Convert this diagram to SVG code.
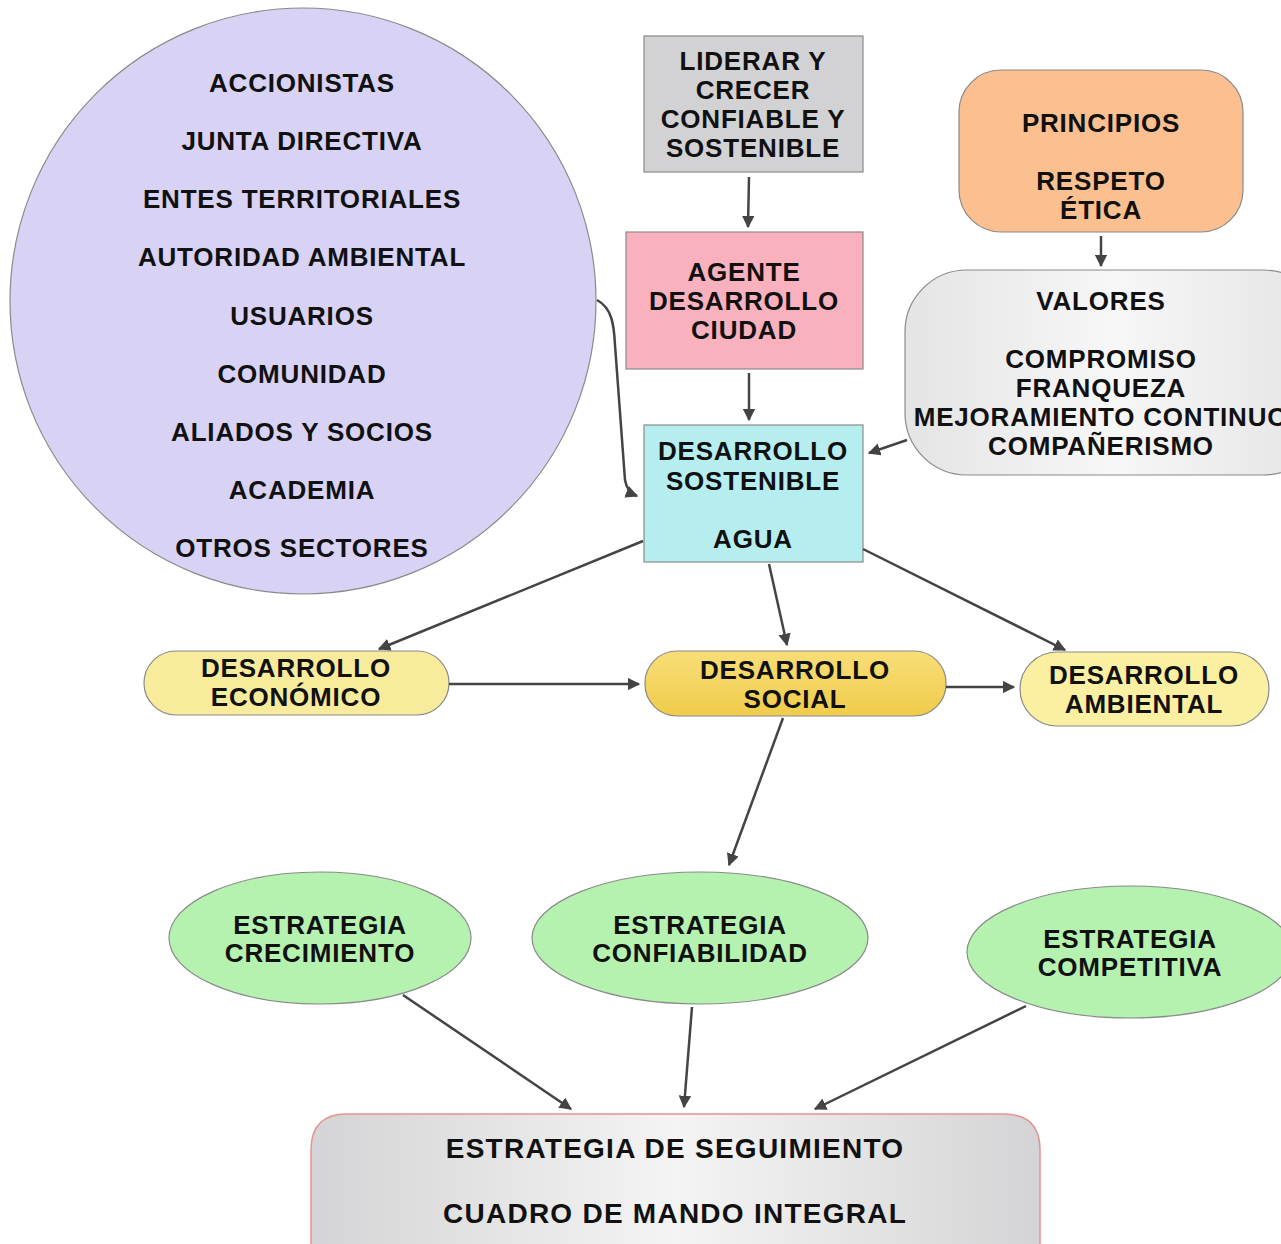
<svg xmlns="http://www.w3.org/2000/svg" width="1281" height="1244" viewBox="0 0 1281 1244">
<style>
text{font-family:"Liberation Sans",Arial,sans-serif;font-weight:bold;font-size:26px;letter-spacing:0.8px;text-anchor:middle;dominant-baseline:central;fill:#111}
text.big{font-size:28px;letter-spacing:1.25px}
.c{stroke:#444;stroke-width:2.5;fill:none;marker-end:url(#ah)}
.n{stroke:#8a8a8a;stroke-width:1.2}
</style>
<defs>
<marker id="ah" viewBox="0 0 10 10" refX="9" refY="5" markerWidth="5" markerHeight="5" orient="auto" markerUnits="strokeWidth">
<path d="M0,0 L10,5 L0,10 z" fill="#444"/>
</marker>
<linearGradient id="gv" x1="0" y1="0" x2="1" y2="0">
<stop offset="0" stop-color="#e4e4e4"/><stop offset="0.5" stop-color="#f7f7f7"/><stop offset="1" stop-color="#e4e4e4"/>
</linearGradient>
<linearGradient id="gb" x1="0" y1="0" x2="1" y2="0">
<stop offset="0" stop-color="#d4d4d6"/><stop offset="0.5" stop-color="#f4f4f4"/><stop offset="1" stop-color="#d4d4d6"/>
</linearGradient>
<linearGradient id="gs" x1="0" y1="0" x2="0" y2="1">
<stop offset="0" stop-color="#f8de78"/><stop offset="1" stop-color="#f0cc4a"/>
</linearGradient>
</defs>
<rect width="1281" height="1244" fill="#fff"/>

<g id="grupos">
<circle class="n" cx="303" cy="301" r="293" fill="#d8d2f4"/>
<text x="302" y="83">ACCIONISTAS</text>
<text x="302" y="141">JUNTA DIRECTIVA</text>
<text x="302" y="199">ENTES TERRITORIALES</text>
<text x="302" y="257">AUTORIDAD AMBIENTAL</text>
<text x="302" y="316">USUARIOS</text>
<text x="302" y="374">COMUNIDAD</text>
<text x="302" y="432">ALIADOS Y SOCIOS</text>
<text x="302" y="490">ACADEMIA</text>
<text x="302" y="548">OTROS SECTORES</text>
</g>

<g id="liderar">
<rect class="n" x="644" y="36" width="219" height="136" fill="#d2d2d4"/>
<text x="753" y="61">LIDERAR Y</text>
<text x="753" y="90">CRECER</text>
<text x="753" y="119">CONFIABLE Y</text>
<text x="753" y="148">SOSTENIBLE</text>
</g>

<g id="agente">
<rect class="n" x="626" y="232" width="237" height="137" fill="#f9b2bd"/>
<text x="744" y="272">AGENTE</text>
<text x="744" y="301">DESARROLLO</text>
<text x="744" y="330">CIUDAD</text>
</g>

<g id="sostenible">
<rect class="n" x="644" y="425" width="219" height="137" fill="#b6eef0"/>
<text x="753" y="451">DESARROLLO</text>
<text x="753" y="481">SOSTENIBLE</text>
<text x="753" y="539">AGUA</text>
</g>

<g id="principios">
<rect class="n" x="959" y="70" width="284" height="162" rx="42" fill="#fbbf90"/>
<text x="1101" y="123">PRINCIPIOS</text>
<text x="1101" y="181">RESPETO</text>
<text x="1101" y="210">ÉTICA</text>
</g>

<g id="valores">
<rect class="n" x="905" y="270" width="420" height="205" rx="62" fill="url(#gv)"/>
<text x="1101" y="301">VALORES</text>
<text x="1101" y="359">COMPROMISO</text>
<text x="1101" y="388">FRANQUEZA</text>
<text x="1101" y="417">MEJORAMIENTO CONTINUO</text>
<text x="1101" y="446">COMPAÑERISMO</text>
</g>

<g id="economico">
<rect class="n" x="144" y="651" width="305" height="64" rx="32" ry="32" fill="#f8ec9c"/>
<text x="296" y="668">DESARROLLO</text>
<text x="296" y="697">ECONÓMICO</text>
</g>

<g id="social">
<rect class="n" x="645" y="651" width="301" height="65" rx="32" ry="32" fill="url(#gs)"/>
<text x="795" y="670">DESARROLLO</text>
<text x="795" y="699">SOCIAL</text>
</g>

<g id="ambiental">
<rect class="n" x="1020" y="652" width="249" height="74" rx="37" ry="37" fill="#fbf0a2"/>
<text x="1144" y="675">DESARROLLO</text>
<text x="1144" y="704">AMBIENTAL</text>
</g>

<g id="crecimiento">
<ellipse class="n" cx="320" cy="938" rx="151" ry="66" fill="#b5f2b0"/>
<text x="320" y="925">ESTRATEGIA</text>
<text x="320" y="953">CRECIMIENTO</text>
</g>

<g id="confiabilidad">
<ellipse class="n" cx="700" cy="938" rx="168" ry="66" fill="#b5f2b0"/>
<text x="700" y="925">ESTRATEGIA</text>
<text x="700" y="953">CONFIABILIDAD</text>
</g>

<g id="competitiva">
<ellipse class="n" cx="1130" cy="952" rx="163" ry="66" fill="#b5f2b0"/>
<text x="1130" y="939">ESTRATEGIA</text>
<text x="1130" y="967">COMPETITIVA</text>
</g>

<g id="seguimiento">
<path d="M311,1260 L311,1150 Q311,1114 347,1114 L1004,1114 Q1040,1114 1040,1150 L1040,1260" fill="url(#gb)" stroke="#e89090" stroke-width="1.5"/>
<text class="big" x="675" y="1148">ESTRATEGIA DE SEGUIMIENTO</text>
<text class="big" x="675" y="1213">CUADRO DE MANDO INTEGRAL</text>
</g>

<g id="conectores">
<path class="c" d="M749,177 L748,227"/>
<path class="c" d="M749,373 L749,420"/>
<path class="c" d="M1101,236 L1101,266"/>
<path class="c" d="M907,440 L869,453"/>
<path class="c" d="M597,300 C612,308 614,325 615,345 L625,480 Q627,492 637,496"/>
<path class="c" d="M643,541 L379,649"/>
<path class="c" d="M769,564 L787,645"/>
<path class="c" d="M863,549 L1065,650"/>
<path class="c" d="M449,684 L639,684"/>
<path class="c" d="M946,687 L1014,687"/>
<path class="c" d="M783,718 L729,865"/>
<path class="c" d="M403,995 L571,1109"/>
<path class="c" d="M692,1007 L684,1107"/>
<path class="c" d="M1026,1006 L815,1109"/>
</g>
</svg>
